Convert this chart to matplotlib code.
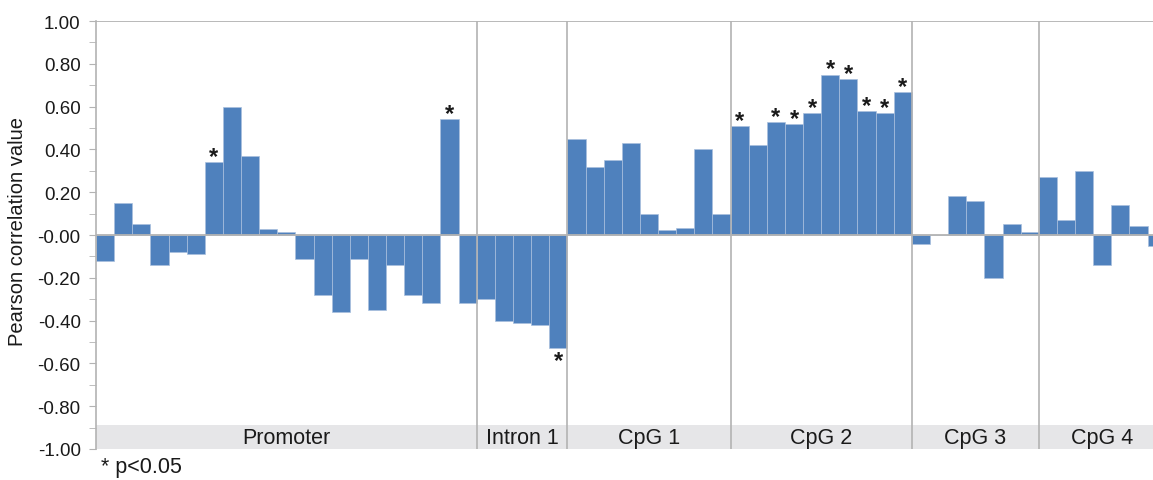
import numpy as np
import matplotlib.pyplot as plt

plt.rcParams['font.family'] = ['Liberation Sans', 'DejaVu Sans']

# regions and their CpG site correlations
regions = ['Promoter', 'Intron 1', 'CpG 1', 'CpG 2', 'CpG 3', 'CpG 4']

promoter = [-0.12, 0.15, 0.05, -0.14, -0.08, -0.09, 0.34, 0.60, 0.37, 0.03, 0.015,
            -0.11, -0.28, -0.36, -0.11, -0.35, -0.14, -0.28, -0.32, 0.54, -0.32]
intron1 = [-0.30, -0.40, -0.41, -0.42, -0.53]
cpg1 = [0.45, 0.32, 0.35, 0.43, 0.10, 0.025, 0.033, 0.40, 0.10]
cpg2 = [0.51, 0.42, 0.53, 0.52, 0.57, 0.75, 0.73, 0.58, 0.57, 0.67]
cpg3 = [-0.04, 0.0, 0.18, 0.16, -0.20, 0.05, 0.015]
cpg4 = [0.27, 0.07, 0.30, -0.14, 0.14, 0.04, -0.05]

# significant sites (p<0.05), index within each region
sig_promoter = [6, 19]
sig_intron1 = [4]
sig_cpg1 = []
sig_cpg2 = [0, 2, 3, 4, 5, 6, 7, 8, 9]
sig_cpg3 = []
sig_cpg4 = []

groups = [promoter, intron1, cpg1, cpg2, cpg3, cpg4]
sigs = [sig_promoter, sig_intron1, sig_cpg1, sig_cpg2, sig_cpg3, sig_cpg4]

values = np.concatenate(groups)
counts = [len(g) for g in groups]
bounds = np.concatenate([[0], np.cumsum(counts)])
x = np.arange(len(values)) + 0.5

fig = plt.figure(figsize=(11.53, 4.81), dpi=100)
ax = fig.add_axes([96 / 1153, 1 - 450 / 481, 1 - 96 / 1153, 428 / 481])

grey = '#b3b3b3'
blue = '#4f81bd'
ink = '#1a1a1a'

ax.bar(x, values, width=1.0, color=blue, edgecolor='#a9c0de', linewidth=0.5, zorder=2)
ax.axhline(0, color=grey, lw=1.3, zorder=3)
ax.axhline(1.0, color=grey, lw=1.3, zorder=3)

# category strip along the bottom
band_top = -0.888
ax.axhspan(-1.0, band_top, color='#e6e6e8', lw=0, zorder=1)
for b in bounds[1:-1]:
    ax.axvline(b, color=grey, lw=1.2, zorder=3)
for name, lo, hi in zip(regions, bounds[:-1], bounds[1:]):
    ax.text((lo + hi) / 2, (band_top - 1.0) / 2, name, ha='center', va='center',
            fontsize=15.5, color=ink, zorder=4)

# asterisks for significant sites
for start, sig in zip(bounds[:-1], sigs):
    for i in sig:
        k = start + i
        v = values[k]
        off = -0.7 if v >= 0 else -13.3
        ax.annotate('*', (x[k], v), xytext=(0, off), textcoords='offset points',
                    ha='center', va='baseline', fontsize=17, fontweight='bold',
                    color=ink, zorder=4)

ax.set_xlim(0, 58.3)
ax.set_ylim(-1.0, 1.0)
ticks = np.arange(-1.0, 1.01, 0.2)
ax.set_yticks(ticks)
ax.set_yticks(np.arange(-0.9, 1.0, 0.2), minor=True)
ax.set_yticklabels(['%.2f' % t for t in ticks])
ax.tick_params(axis='y', which='both', length=5, color=grey, labelsize=13.5,
               labelcolor=ink, pad=6)
ax.set_xticks([])
for s in ['top', 'right', 'bottom']:
    ax.spines[s].set_visible(False)
ax.spines['left'].set_color(grey)
ax.spines['left'].set_linewidth(1.2)

fig.text(18 / 1153, 1 - 232 / 481, 'Pearson correlation value', rotation=90,
         ha='center', va='center', fontsize=14.5, color=ink)
fig.text(101 / 1153, 1 - 468 / 481, '* p<0.05', ha='left', va='center',
         fontsize=15.5, color=ink)

fig.savefig('out.png', dpi=100)
